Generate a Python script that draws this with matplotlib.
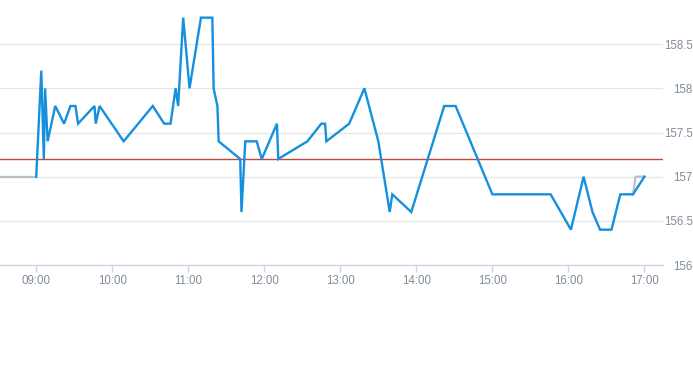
import pandas as pd
import matplotlib
matplotlib.use("Agg")
import matplotlib.pyplot as plt
import matplotlib.dates as mdates

day = "2024-01-02 "

# intraday price
times = ["09:00", "09:04", "09:06", "09:07", "09:09", "09:15", "09:22", "09:27", "09:31",
         "09:33", "09:46", "09:47", "09:50", "10:09", "10:32", "10:41", "10:46", "10:50",
         "10:52", "10:56", "11:01", "11:10", "11:19", "11:20", "11:23", "11:24", "11:41",
         "11:42", "11:45", "11:54", "11:58", "12:10", "12:11", "12:34", "12:45", "12:48",
         "12:49", "13:07", "13:19", "13:30", "13:39", "13:41", "13:56", "14:22", "14:31",
         "15:00", "15:46", "16:02", "16:12", "16:19", "16:25", "16:34", "16:41", "16:51",
         "17:00"]
prices = [157.0, 158.2, 157.2, 158.0, 157.4, 157.8, 157.6, 157.8, 157.8,
          157.6, 157.8, 157.6, 157.8, 157.4, 157.8, 157.6, 157.6, 158.0,
          157.8, 158.8, 158.0, 158.8, 158.8, 158.0, 157.8, 157.4, 157.2,
          156.6, 157.4, 157.4, 157.2, 157.6, 157.2, 157.4, 157.6, 157.6,
          157.4, 157.6, 158.0, 157.4, 156.6, 156.8, 156.6, 157.8, 157.8,
          156.8, 156.8, 156.4, 157.0, 156.6, 156.4, 156.4, 156.8, 156.8,
          157.0]

# grey reference series (before open / after close)
pre_times = ["08:25", "09:00"]
pre_prices = [157.0, 157.0]
post_times = ["16:51", "16:53", "17:00"]
post_prices = [156.8, 157.0, 157.0]

ref_price = 157.2
y_ticks = [156, 156.5, 157, 157.5, 158, 158.5]


def to_dt(ts):
    return pd.to_datetime([day + t for t in ts])


fig = plt.figure(figsize=(6.93, 3.65), dpi=100)
ax = fig.add_axes([0, 1 - 265 / 365, 663 / 693, 265 / 365])

ax.plot(to_dt(pre_times), pre_prices, color="#b5c0c9", lw=1.6, zorder=2)
ax.plot(to_dt(post_times), post_prices, color="#b5c0c9", lw=1.6, zorder=2)
ax.plot(to_dt(times), prices, color="#1490de", lw=1.7, zorder=3,
        solid_joinstyle="miter")
ax.axhline(ref_price, color="#c8453a", lw=1.0, zorder=2)

ax.set_xlim(pd.Timestamp(day + "08:31:25"), pd.Timestamp(day + "17:14:40"))
ax.set_ylim(156, 159)

ax.xaxis.set_major_locator(mdates.HourLocator(byhour=range(9, 18)))
ax.xaxis.set_major_formatter(mdates.DateFormatter("%H:%M"))
ax.set_yticks(y_ticks)
ax.set_yticklabels([f"{v:g}" for v in y_ticks])

ax.yaxis.tick_right()
ax.grid(axis="y", color="#e6e6e6", lw=0.9)
ax.set_axisbelow(True)
for s in ["top", "left", "right"]:
    ax.spines[s].set_visible(False)
ax.spines["bottom"].set_color("#ccd6eb")
ax.spines["bottom"].set_linewidth(1.0)

ax.tick_params(axis="x", colors="#ccd6eb", length=5, width=1, pad=2,
               labelcolor="#808c99", labelsize=8.3)
ax.tick_params(axis="y", length=0, pad=21.5, labelcolor="#808c99", labelsize=8.3)
for lab in ax.get_yticklabels():
    lab.set_horizontalalignment("right")
for lab in ax.get_xticklabels() + ax.get_yticklabels():
    lab.set_fontfamily("Liberation Sans")

fig.savefig("out.png", dpi=100)
